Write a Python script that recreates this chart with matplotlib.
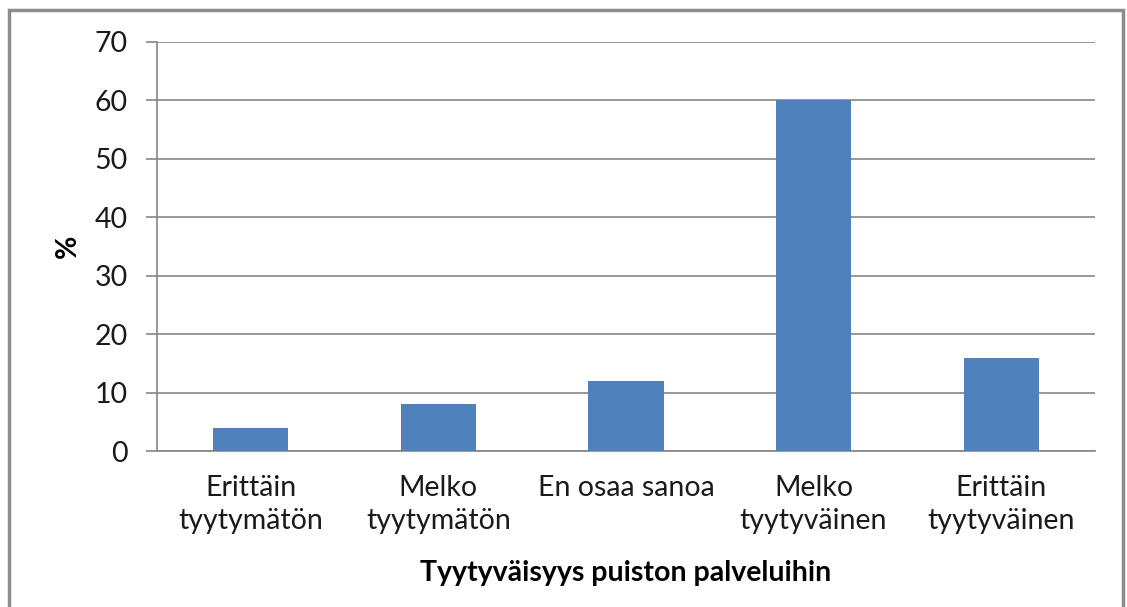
import matplotlib.pyplot as plt
from matplotlib.patches import Rectangle

# satisfaction categories and share of answers (%)
categories = ['Erittäin\ntyytymätön', 'Melko\ntyytymätön', 'En osaa sanoa',
              'Melko\ntyytyväinen', 'Erittäin\ntyytyväinen']
values = [4, 8, 12, 60, 16]
yticks = [0, 10, 20, 30, 40, 50, 60, 70]

plt.rcParams['font.family'] = ['Lato', 'DejaVu Sans']

fig = plt.figure(figsize=(11.27, 6.07), dpi=100)
ax = fig.add_axes([157 / 1127, 1 - 451 / 607, (1095 - 157) / 1127, (451 - 42) / 607])

# outer chart border
fig.patches.append(Rectangle((9 / 1127, -0.01), (1123 - 9) / 1127, 1 - 10 / 607 + 0.01,
                             transform=fig.transFigure, fill=False,
                             edgecolor='#8c8c8c', linewidth=2.5))

x = range(len(categories))
ax.bar(x, values, width=0.4, color='#4f81bd', zorder=3)

ax.set_xlim(-0.5, len(categories) - 0.5)
ax.set_ylim(0, 70)
ax.set_yticks(yticks)
ax.set_xticks(list(x))
ax.set_xticklabels(categories, fontsize=20.5, color='#1a1a1a', linespacing=1.35)
ax.tick_params(axis='y', labelsize=20.5, labelcolor='#1a1a1a', length=8, width=1.2,
               color='#868686', pad=13)
ax.tick_params(axis='x', length=0, pad=17)

ax.grid(axis='y', color='#868686', linewidth=1.2, zorder=0)
for side in ['top', 'right']:
    ax.spines[side].set_visible(False)
ax.spines['left'].set_color('#868686')
ax.spines['left'].set_linewidth(1.2)
ax.spines['bottom'].set_color('#868686')
ax.spines['bottom'].set_linewidth(1.2)

ax.set_xlabel('Tyytyväisyys puiston palveluihin', fontsize=20.5, fontweight='bold',
              labelpad=19)
ax.set_ylabel('%', fontsize=20.5, fontweight='bold', labelpad=10)

fig.savefig('out.png', dpi=100)
